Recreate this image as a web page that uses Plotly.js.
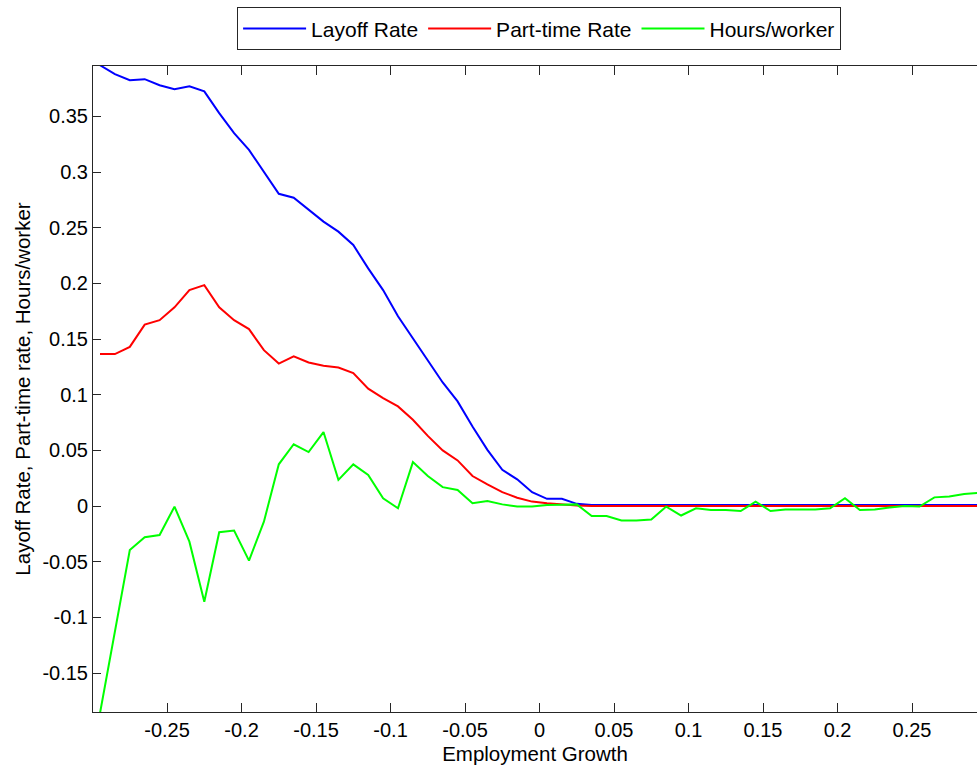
<!DOCTYPE html>
<html>
<head>
<meta charset="utf-8">
<script src="https://cdn.plot.ly/plotly-3.0.1.min.js"></script>
<style>html,body{margin:0;padding:0;background:#fff;overflow:hidden;}</style>
</head>
<body>
<div id="chart" style="width:977px;height:767px;"></div>
<script>
const employmentGrowth = [-0.295,-0.285,-0.275,-0.265,-0.255,-0.245,-0.235,-0.225,-0.215,-0.205,
  -0.195,-0.185,-0.175,-0.165,-0.155,-0.145,-0.135,-0.125,-0.115,-0.105,
  -0.095,-0.085,-0.075,-0.065,-0.055,-0.045,-0.035,-0.025,-0.015,-0.005,
  0.005,0.015,0.025,0.035,0.045,0.055,0.065,0.075,0.085,0.095,
  0.105,0.115,0.125,0.135,0.145,0.155,0.165,0.175,0.185,0.195,
  0.205,0.215,0.225,0.235,0.245,0.255,0.265,0.275,0.285,0.295];

const layoffRate = [0.396,0.388,0.3825,0.3835,0.378,0.3745,0.377,0.3725,0.353,0.335,
  0.320,0.300,0.2805,0.277,0.266,0.2555,0.2465,0.2345,0.2135,0.194,
  0.1705,0.1505,0.131,0.111,0.094,0.0715,0.0505,0.0325,0.024,0.0125,
  0.0065,0.0065,0.002,0.001,0.001,0.001,0.001,0.001,0.001,0.001,
  0.001,0.001,0.001,0.001,0.001,0.001,0.001,0.001,0.001,0.001,
  0.001,0.001,0.001,0.001,0.001,0.001,0.001,0.001,0.001,0.001];

const partTimeRate = [0.1365,0.1365,0.143,0.163,0.167,0.1785,0.194,0.1985,0.1785,0.167,
  0.159,0.140,0.128,0.1345,0.129,0.126,0.1245,0.1195,0.1055,0.097,
  0.0895,0.0775,0.063,0.050,0.041,0.027,0.0195,0.0125,0.0075,0.004,
  0.0025,0.0012,0.0005,0,0,0,0,0,0,0,
  0,0,0,0,0,0,0,0,0,0,
  0,0,0,0,0,0,0,0,0,0];

const hoursPerWorker = [-0.186,-0.111,-0.0395,-0.028,-0.026,-0.0005,-0.032,-0.086,-0.0235,-0.022,
  -0.049,-0.014,0.0375,0.0555,0.0485,0.0665,0.0235,0.0375,0.028,0.007,
  -0.002,0.0395,0.027,0.017,0.0145,0.0025,0.0045,0.0015,-0.0005,-0.0005,
  0.001,0.0012,0.0015,-0.009,-0.009,-0.013,-0.013,-0.012,-0.0005,-0.0085,
  -0.002,-0.0035,-0.0035,-0.0045,0.004,-0.0045,-0.003,-0.003,-0.003,-0.002,
  0.007,-0.0035,-0.003,-0.0012,0,-0.0005,0.0078,0.0085,0.0108,0.012];

const xTickVals = [-0.25,-0.2,-0.15,-0.1,-0.05,0,0.05,0.1,0.15,0.2,0.25];
const xTickText = ["-0.25","-0.2","-0.15","-0.1","-0.05","0","0.05","0.1","0.15","0.2","0.25"];
const yTickVals = [-0.15,-0.1,-0.05,0,0.05,0.1,0.15,0.2,0.25,0.3,0.35];
const yTickText = ["-0.15","-0.1","-0.05","0","0.05","0.1","0.15","0.2","0.25","0.3","0.35"];

const FONT = "Liberation Sans, Arial, Helvetica, sans-serif";

const traces = [
  {x: employmentGrowth, y: layoffRate, name: "Layoff Rate", type: "scatter", mode: "lines",
   line: {color: "#0000FF", width: 2}},
  {x: employmentGrowth, y: partTimeRate, name: "Part-time Rate", type: "scatter", mode: "lines",
   line: {color: "#FF0000", width: 2}},
  {x: employmentGrowth, y: hoursPerWorker, name: "Hours/worker", type: "scatter", mode: "lines",
   line: {color: "#00FF00", width: 2}}
];

const layout = {
  width: 977, height: 767,
  margin: {l: 93, r: 0, t: 66, b: 55, pad: 0},
  paper_bgcolor: "#fff", plot_bgcolor: "#fff",
  font: {family: FONT, size: 20, color: "#000"},
  showlegend: true,
  legend: {
    orientation: "h", x: 0.163, xanchor: "left", y: 1.0906, yanchor: "top",
    bordercolor: "#262626", borderwidth: 1, bgcolor: "#fff",
    font: {family: FONT, size: 21, color: "#000"},
    itemwidth: 63, traceorder: "normal"
  },
  xaxis: {
    range: [-0.2997, 0.2936], tickmode: "array", tickvals: xTickVals, ticktext: xTickText,
    ticks: "inside", ticklen: 9, tickcolor: "#262626", tickwidth: 1,
    showline: true, linecolor: "#262626", linewidth: 1, mirror: "ticks",
    showgrid: false, zeroline: false,
    tickfont: {family: FONT, size: 20, color: "#000"},
    title: {text: "Employment Growth", font: {family: FONT, size: 20.5, color: "#000"}, standoff: 6}
  },
  yaxis: {
    range: [-0.185, 0.3953], tickmode: "array", tickvals: yTickVals, ticktext: yTickText,
    ticks: "inside", ticklen: 8, tickcolor: "#262626", tickwidth: 1,
    showline: true, linecolor: "#262626", linewidth: 1, mirror: false,
    showgrid: false, zeroline: false,
    tickfont: {family: FONT, size: 20, color: "#000"},
    title: {text: "Layoff Rate, Part-time rate, Hours/worker", font: {family: FONT, size: 20.5, color: "#000"}, standoff: 6}
  }
};

Plotly.newPlot("chart", traces, layout, {displayModeBar: false, staticPlot: true});
</script>
</body>
</html>
